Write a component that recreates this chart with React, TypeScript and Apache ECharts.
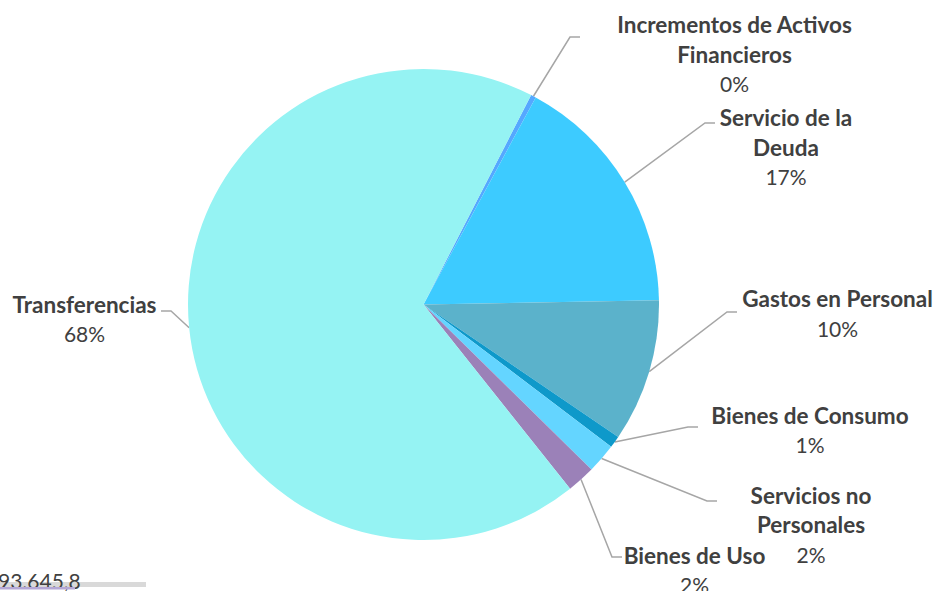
import React, { useEffect, useRef } from "react";
import * as echarts from "echarts";

// ---- Data ----
const categories = [
  "Incrementos de Activos Financieros",
  "Servicio de la Deuda",
  "Gastos en Personal",
  "Bienes de Consumo",
  "Servicios no Personales",
  "Bienes de Uso",
  "Transferencias",
];
// share of total (%)
const values = [0.35, 16.8, 9.8, 0.82, 2.04, 1.94, 68.25];
const displayNames = [
  "Incrementos de Activos\nFinancieros",
  "Servicio de la\nDeuda",
  "Gastos en Personal",
  "Bienes de Consumo",
  "Servicios no\nPersonales",
  "Bienes de Uso",
  "Transferencias",
];
const colors = ["#55A8FF", "#3DCBFF", "#5BB2CB", "#0E99CA", "#64D5FF", "#9B81B8", "#95F3F3"];
const footnoteText = "93.645,8";

// ---- Layout (positions only) ----
const LH = 29.5;
const labelLayoutCfg = [
  { x: 734.5, c: 24.5, ex: 580, ey: 37, side: 1 },
  { x: 786, c: 117.5, ex: 715, ey: 123, side: 1 },
  { x: 837.5, c: 298.5, ex: 737, ey: 312, side: 1 },
  { x: 810, c: 415, ex: 698, ey: 427, side: 1 },
  { x: 811, c: 495, ex: 717, ey: 501, side: 1 },
  { x: 694.5, c: 555, ex: 622, ey: 557, side: 1 },
  { x: 84.5, c: 304, ex: 161, ey: 311, side: -1 },
];

export default function App() {
  const ref = useRef<HTMLDivElement>(null);
  useEffect(() => {
    if (!ref.current) return;
    const chart = echarts.init(ref.current, undefined, { renderer: "svg" });
    const data = categories.map((name, i) => ({
      name,
      value: values[i],
      itemStyle: { color: colors[i] },
    }));
    chart.setOption({
      animation: false,
      backgroundColor: "#FFFFFF",
      series: [
        {
          type: "pie",
          center: [423.5, 304.5],
          radius: 235.5,
          startAngle: 62.8,
          clockwise: true,
          avoidLabelOverlap: false,
          itemStyle: { borderWidth: 0 },
          emphasis: { disabled: true },
          data,
          label: {
            show: true,
            position: "outside",
            formatter: (p: any) =>
              `{n|${displayNames[p.dataIndex]}}\n{p|${Math.round(p.percent)}%}`,
            rich: {
              n: {
                fontFamily: "Lato",
                fontWeight: "bold",
                fontSize: 22.5,
                color: "#404040",
                lineHeight: LH,
                align: "center",
              },
              p: {
                fontFamily: "Lato",
                fontSize: 21,
                color: "#404040",
                lineHeight: LH,
                align: "center",
              },
            },
          },
          labelLine: {
            show: true,
            length: 20,
            length2: 10,
            lineStyle: { color: "#A6A6A6", width: 1.5 },
          },
          labelLayout: (params: any) => {
            const i = params.dataIndex;
            const L = labelLayoutCfg[i];
            const pts = params.labelLinePoints;
            const p0 = pts && pts[0] ? [pts[0][0], pts[0][1]] : [L.ex, L.ey];
            return {
              x: L.x,
              y: L.c - LH / 2,
              align: "center",
              verticalAlign: "top",
              labelLinePoints: [p0, [L.ex - L.side * 10, L.ey], [L.ex, L.ey]],
            };
          },
        },
      ],
      graphic: [
        {
          type: "rect",
          shape: { x: 0, y: 582, width: 146, height: 5 },
          style: { fill: "#D9D9D9" },
          z: 1,
        },
        {
          type: "rect",
          shape: { x: 0, y: 587, width: 75, height: 2.5 },
          style: { fill: "#B4A7D6" },
          z: 3,
        },
        {
          type: "text",
          x: -2,
          y: 580,
          z: 2,
          style: {
            text: footnoteText,
            fontFamily: "Lato",
            fontSize: 21,
            fill: "#404040",
            verticalAlign: "middle",
          },
        },
      ],
    });
    return () => chart.dispose();
  }, []);
  return (
    <div
      ref={ref}
      style={{ position: "fixed", left: 0, top: 0, width: 937, height: 591 }}
    />
  );
}
